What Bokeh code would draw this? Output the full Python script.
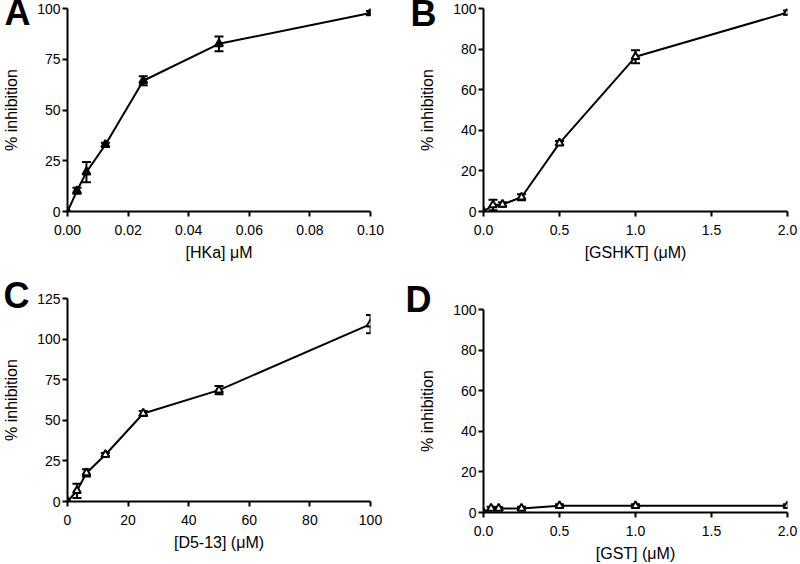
from bokeh.plotting import figure
from bokeh.layouts import column, row
from bokeh.models import (Range1d, FixedTicker, PrintfTickFormatter, Whisker,
                          TeeHead, ColumnDataSource, Title)
from bokeh.embed import file_html
from bokeh.resources import INLINE

# ---- data ----
a_x = [0, 0.003125, 0.00625, 0.0125, 0.025, 0.05, 0.1]
a_y = [0, 10.2, 19.4, 32.9, 64.4, 82.6, 97.8]
a_err = [0, 1.5, 5.0, 1.0, 2.2, 3.6, 1.0]

b_x = [0, 0.0625, 0.125, 0.25, 0.5, 1.0, 2.0]
b_y = [0, 3.2, 3.5, 7.0, 33.7, 76.2, 98.0]
b_err = [0, 2.6, 1.0, 1.5, 1.0, 3.2, 1.0]

c_x = [0, 3.125, 6.25, 12.5, 25, 50, 100]
c_y = [0, 6.6, 17.6, 28.8, 54.2, 68.6, 109.2]
c_err = [0, 4.4, 2.2, 1.0, 1.6, 2.5, 5.6]

d_x = [0, 0.05, 0.1, 0.25, 0.5, 1.0, 2.0]
d_y = [0, 2.0, 2.0, 2.0, 3.3, 3.3, 3.3]
d_err = [0, 0.8, 0.6, 0.8, 0.8, 0.8, 0.8]

a_xticks = [0, 0.02, 0.04, 0.06, 0.08, 0.1]
a_yticks = [0, 25, 50, 75, 100]
b_xticks = [0, 0.5, 1.0, 1.5, 2.0]
b_yticks = [0, 20, 40, 60, 80, 100]
c_xticks = [0, 20, 40, 60, 80, 100]
c_yticks = [0, 25, 50, 75, 100, 125]
d_xticks = [0, 0.5, 1.0, 1.5, 2.0]
d_yticks = [0, 20, 40, 60, 80, 100]

FONT = "Liberation Sans"


def panel(letter, xs, ys, errs, xr, yr, xticks, yticks, xfmt, xlabel,
          fill, borders, letter_off):
    bl, br, bt, bb = borders
    p = figure(width=400, height=282, output_backend="svg",
               toolbar_location=None, x_range=Range1d(*xr),
               y_range=Range1d(*yr), min_border_left=bl,
               min_border_right=br, min_border_top=bt,
               min_border_bottom=bb)
    p.outline_line_color = None
    p.grid.visible = False
    p.background_fill_color = "white"
    for ax in (p.xaxis[0], p.yaxis[0]):
        ax.axis_line_width = 2
        ax.axis_line_color = "black"
        ax.major_tick_line_width = 2
        ax.major_tick_line_color = "black"
        ax.major_tick_out = 5
        ax.major_tick_in = 0
        ax.minor_tick_line_color = None
        ax.major_label_text_font = FONT
        ax.major_label_text_font_size = "14px"
        ax.major_label_text_color = "black"
        ax.axis_label_text_font = FONT
        ax.axis_label_text_font_size = "16px"
        ax.axis_label_text_font_style = "normal"
        ax.axis_label_text_color = "black"
    p.xaxis.ticker = FixedTicker(ticks=xticks)
    p.yaxis.ticker = FixedTicker(ticks=yticks)
    p.xaxis.formatter = PrintfTickFormatter(format=xfmt)
    p.xaxis.major_label_standoff = 8
    p.yaxis.major_label_standoff = 2
    p.xaxis.axis_label = xlabel
    p.yaxis.axis_label = "% inhibition"
    p.xaxis.axis_label_standoff = 6
    p.yaxis.axis_label_standoff = 14

    src = ColumnDataSource(dict(
        x=[x for x, e in zip(xs, errs) if e > 0],
        lo=[y - e for y, e in zip(ys, errs) if e > 0],
        hi=[y + e for y, e in zip(ys, errs) if e > 0]))
    w = Whisker(source=src, base="x", lower="lo", upper="hi",
                line_width=2, line_color="black",
                upper_head=TeeHead(size=9, line_width=2, line_color="black"),
                lower_head=TeeHead(size=9, line_width=2, line_color="black"))
    p.add_layout(w)
    p.line(xs, ys, line_width=2, line_color="black")
    p.scatter(xs, ys, marker="triangle", size=8, fill_color=fill,
              line_color="black", line_width=2)
    t = Title(text=letter, align="left", vertical_align="bottom",
              offset=letter_off[0], standoff=letter_off[1],
              text_font=FONT, text_font_size="36px",
              text_font_style="bold", text_color="black")
    p.add_layout(t, "above")
    return p


pa = panel("A", a_x, a_y, a_err, (0, 0.1), (0, 100), a_xticks, a_yticks,
           "%.2f", "[HKa] \u03bcM", "black", (65, 30, 8, 71), (-63, -49))
pb = panel("B", b_x, b_y, b_err, (0, 2.0), (0, 100), b_xticks, b_yticks,
           "%.1f", "[GSHKT] (\u03bcM)", "white", (83, 13, 8, 71), (-73, -51))
pc = panel("C", c_x, c_y, c_err, (0, 100), (0, 125), c_xticks, c_yticks,
           "%d", "[D5-13] (\u03bcM)", "white", (65, 30, 16, 63), (-64, -35))
pd = panel("D", d_x, d_y, d_err, (0, 2.0), (0, 100), d_xticks, d_yticks,
           "%.1f", "[GST] (\u03bcM)", "white", (83, 13, 27, 51), (-78, -21))

layout = row(column(pa, pc), column(pb, pd))
open("out.html", "w").write(file_html(layout, INLINE))
